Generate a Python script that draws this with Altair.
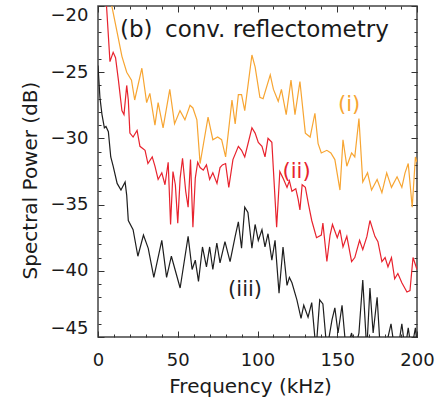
import altair as alt
import pandas as pd

# ---- data ----
freq_i = [0, 4, 9, 12, 15, 18, 21, 23, 27.5, 30.5, 32.5, 35.7, 37.7, 40.8, 45, 48, 51.4, 54.5, 57.7, 59.5,
          62, 64, 66, 69, 72, 75, 77.5, 80, 84, 86, 88, 90, 92, 96.5, 98.5, 101.5, 103.5, 108, 110, 113,
          115, 118, 121, 123.5, 126.6, 130, 133, 136, 138, 140, 143.5, 146, 148.5, 151.7, 153.6, 156, 159, 161, 163.6, 166,
          169, 171.5, 175, 178, 181, 184, 187.5, 190.5, 192.5, 194.5, 197, 199, 200]
power_i = [-14, -17, -20.2, -22, -23.8, -25.0, -25.6, -27.1, -24.7, -27.3, -26.6, -29.0, -27.3, -29.2, -26.3, -28.9, -27.9, -28.6, -27.5, -27.7,
           -28.6, -31.9, -30.5, -28.4, -30.1, -29.9, -30.1, -31.4, -27.1, -28.9, -26.7, -26.7, -27.9, -23.7, -24.6, -26.9, -27.0, -25.2, -26.3, -27.2,
           -26.3, -28.2, -25.6, -28.2, -25.7, -29.6, -29.9, -28.1, -30.4, -31.1, -30.9, -31.1, -31.6, -33.9, -30.1, -32.1, -31.1, -31.4, -28.5, -33.3,
           -32.6, -33.9, -33.1, -34.1, -32.6, -33.7, -32.9, -33.7, -32.6, -31.9, -35.2, -31.4, -31.8]

freq_ii = [0, 3, 5.5, 7.5, 9.5, 11, 12.8, 15, 16.3, 18, 19, 20, 22, 24.5, 26.3, 29.5, 31.3, 34, 35.7, 37.7,
           40, 42, 44, 45.5, 47, 48.5, 50, 51.5, 53, 55, 56.5, 58, 59.5, 61, 62.5, 64, 66, 68, 70, 72,
           74.6, 76.5, 78, 80, 82, 84.6, 88, 90, 92, 96.5, 98.5, 100.5, 102.8, 104.7, 106.6, 109, 112, 114, 116, 118.5,
           120, 121.6, 124, 125.5, 126.6, 128, 130, 132, 134, 137, 140, 141, 143.5, 145.5, 147, 150, 151.7, 153.6, 156, 159,
           161, 164, 166, 168.6, 170.5, 173.6, 175.5, 178, 180, 181.8, 184, 186, 188, 190.5, 193.7, 195.6, 197.5, 200]
power_ii = [-12, -16, -20.3, -24.2, -23.5, -23.9, -25.6, -27.9, -28.2, -26.0, -27.1, -29.6, -29.9, -29.4, -30.6, -30.9, -31.9, -31.4, -32.1, -33.1,
            -32.6, -33.5, -31.8, -36.5, -32.5, -33.5, -36.4, -33.0, -31.5, -34.0, -35.2, -31.6, -36.7, -33.0, -31.8, -32.2, -32.4, -32.0, -33.1, -32.6,
            -33.4, -32.2, -32.0, -31.9, -33.7, -31.6, -30.6, -30.9, -31.4, -29.2, -29.6, -30.3, -30.6, -31.4, -30.0, -30.3, -36.7, -32.5, -33.0, -33.7,
            -33.2, -34.0, -33.8, -34.6, -35.4, -33.5, -33.7, -35.0, -36.2, -37.5, -37.3, -36.4, -39.3, -37.3, -36.5, -37.5, -36.9, -38.2, -37.4, -39.3,
            -39.0, -37.7, -38.4, -37.4, -36.2, -37.4, -37.8, -39.3, -39.0, -39.7, -39.0, -40.6, -40.2, -40.9, -41.6, -41.5, -39.0, -39.9]

freq_iii = [0, 1.2, 2.5, 4, 5, 6.5, 8, 9.5, 12, 14.4, 17, 18, 19, 22, 25, 28.5, 31.5, 35, 40, 43,
            46, 51.5, 56.5, 59, 61, 63, 65.5, 68, 70, 72, 74.5, 76.5, 79.6, 82.8, 86, 88, 90, 92, 94, 96.5,
            98.5, 100.5, 102.8, 104.7, 106.6, 109, 111, 113.5, 116, 118.5, 120, 121.6, 124.7, 127.3, 129, 131.7, 134, 136.7, 139, 141,
            143.5, 146.7, 148.5, 150.5, 153, 155.5, 157, 159, 161, 163.6, 166, 168.5, 170.5, 172.5, 175, 177, 180, 183.7, 186, 188,
            190.5, 192.5, 194.5, 196.5, 199, 200]
power_iii = [-24.5, -26.9, -28.2, -29.2, -29.1, -29.5, -31.4, -32.1, -33.4, -33.9, -33.3, -34.3, -36.2, -36.9, -38.9, -37.3, -38.3, -40.5, -37.7, -40.5,
             -38.9, -41.3, -37.4, -39.9, -39.2, -40.8, -38.2, -39.7, -38.2, -39.9, -37.9, -39.4, -37.8, -39.3, -37.4, -36.3, -38.3, -35.2, -35.6, -38.3,
             -36.5, -37.7, -36.9, -38.2, -37.2, -39.2, -37.7, -41.7, -38.2, -41.1, -40.5, -40.9, -42.2, -43.6, -42.6, -43.5, -42.4, -46.0, -42.2, -42.5,
             -46.0, -43.7, -42.8, -44.7, -42.6, -46.0, -45.5, -44.7, -46.0, -44.7, -40.7, -46.0, -41.3, -44.7, -42.0, -46.0, -46.0, -44.0, -46.0, -46.0,
             -44.0, -46.0, -44.3, -46.0, -44.3, -45.5]

series_names = ["(i)", "(ii)", "(iii)"]
series_colors = ["#F7A532", "#E8222D", "#1E1E1E"]

label_text = ["(i)", "(ii)", "(iii)"]
label_freq = [157.4, 124.5, 92.2]
label_power = [-27.9, -33.0, -41.9]

header_text = ["(b)", "conv. reflectometry"]
header_freq = [13.8, 42.0]
header_power = [-22.35, -22.35]

x_major = [0, 50, 100, 150, 200]
x_minor = [v for v in range(0, 201, 10)]
y_major = [-45, -40, -35, -30, -25, -20]
y_minor = [v for v in range(-45, -19)]

# ---- tables ----
rows = []
for name, fs, ps in zip(series_names, [freq_i, freq_ii, freq_iii], [power_i, power_ii, power_iii]):
    for f, p in zip(fs, ps):
        rows.append({"series": name, "freq": f, "power": p})
df = pd.DataFrame(rows)
df_lab = pd.DataFrame({"text": label_text, "freq": label_freq, "power": label_power, "series": series_names})
df_head = pd.DataFrame({"text": header_text, "freq": header_freq, "power": header_power})

FONT = "DejaVu Sans"
xscale = alt.Scale(domain=[0, 200], nice=False, zero=False)
yscale = alt.Scale(domain=[-45, -20], nice=False, zero=False)
cscale = alt.Scale(domain=series_names, range=series_colors)

lines = alt.Chart(df).mark_line(clip=True, strokeWidth=1.2).encode(
    x=alt.X("freq:Q", scale=xscale,
            axis=alt.Axis(orient="bottom", values=x_major, ticks=False, tickSize=0, domain=False, grid=False,
                          labelFontSize=18, labelFont=FONT, labelColor="#1a1a1a", labelPadding=28,
                          labelBaseline="alphabetic", labelFlush=False,
                          title="Frequency (kHz)", titleFont=FONT, titleFontSize=20, titleFontWeight="normal",
                          titleColor="#1a1a1a", titleX=152, titleY=55, titleAlign="center",
                          titleBaseline="alphabetic")),
    y=alt.Y("power:Q", scale=yscale,
            axis=alt.Axis(orient="left", values=y_major, ticks=False, tickSize=0, domain=False, grid=False,
                          labelFontSize=18, labelFont=FONT, labelColor="#1a1a1a", labelPadding=10,
                          labelFlush=True,
                          title="Spectral Power (dB)", titleFont=FONT, titleFontSize=20, titleFontWeight="normal",
                          titleColor="#1a1a1a", titleX=-68, titleY=174, titleAngle=270, titleAlign="center",
                          titleBaseline="middle")),
    color=alt.Color("series:N", scale=cscale, legend=None),
    detail="series:N",
)


def tick_layer(xorient, yorient, size, xvals, yvals):
    return alt.Chart(df).mark_line(opacity=0).encode(
        x=alt.X("freq:Q", scale=xscale,
                axis=alt.Axis(orient=xorient, values=xvals, labels=False, domain=False, grid=False,
                              tickSize=size, offset=-size, tickColor="#333333", tickWidth=1, title=None)),
        y=alt.Y("power:Q", scale=yscale,
                axis=alt.Axis(orient=yorient, values=yvals, labels=False, domain=False, grid=False,
                              tickSize=size, offset=-size, tickColor="#333333", tickWidth=1, title=None)),
        detail="series:N",
    )


ticks = [
    tick_layer("bottom", "left", 6, x_major, y_major),
    tick_layer("bottom", "left", 3, x_minor, y_minor),
    tick_layer("top", "right", 6, x_major, y_major),
    tick_layer("top", "right", 3, x_minor, y_minor),
]

labels = alt.Chart(df_lab).mark_text(font=FONT, fontSize=21, align="center", baseline="alphabetic").encode(
    x=alt.X("freq:Q", scale=xscale, axis=None),
    y=alt.Y("power:Q", scale=yscale, axis=None),
    text="text:N",
    color=alt.Color("series:N", scale=cscale, legend=None),
)

header = alt.Chart(df_head).mark_text(font=FONT, fontSize=23, align="left", baseline="alphabetic",
                                      color="#1a1a1a").encode(
    x=alt.X("freq:Q", scale=xscale, axis=None),
    y=alt.Y("power:Q", scale=yscale, axis=None),
    text="text:N",
)

chart = alt.layer(lines, *ticks, labels, header).resolve_axis(
    x="independent", y="independent"
).properties(
    width=319, height=331,
    autosize=alt.AutoSizeParams(type="none"),
    padding={"left": 98, "top": 6, "right": 20, "bottom": 62},
    background="white",
).configure_view(stroke="#444444", strokeWidth=1.5)

chart.save("out.html", embed_options={"renderer": "svg", "actions": False})
